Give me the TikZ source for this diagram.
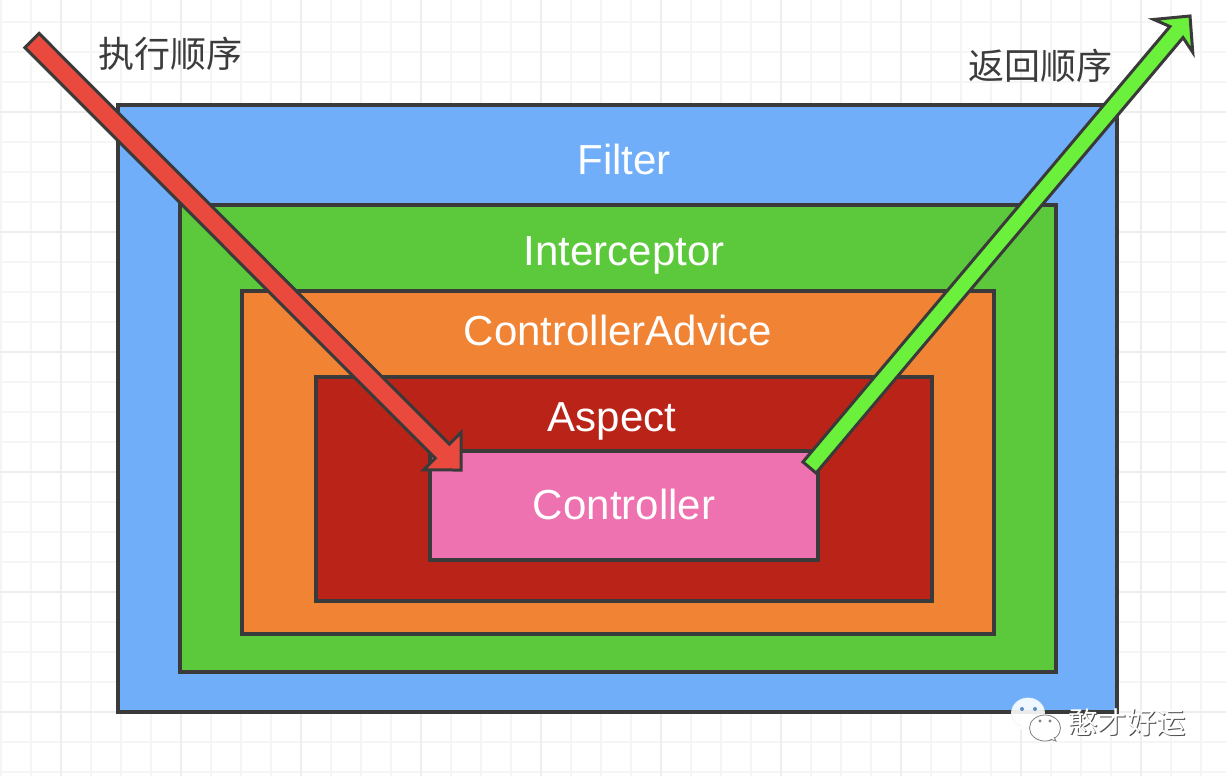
\documentclass[tikz,border=0pt]{standalone}
\usepackage{fontspec}
\usetikzlibrary{calc}
\setmainfont{Liberation Sans}
\newfontfamily\cjk{Noto Sans CJK SC}
\definecolor{stroke}{HTML}{3A3A3A}
\definecolor{cblue}{HTML}{70AEF9}
\definecolor{cgreen}{HTML}{5CC93C}
\definecolor{corange}{HTML}{F08434}
\definecolor{cdark}{HTML}{BA2418}
\definecolor{cpink}{HTML}{EE71B0}
\definecolor{cred}{HTML}{EA4A3E}
\definecolor{cgarrow}{HTML}{6BF03C}
\definecolor{gminor}{HTML}{F5F5F5}
\definecolor{gmajor}{HTML}{EEEEEE}
\definecolor{ctext}{HTML}{3C3C3C}
\tikzset{
  layer/.style={draw=stroke,line width=3.2pt,rectangle,inner sep=0pt,outer sep=0pt},
  boxlabel/.style={text=white,anchor=base,inner sep=0pt,font=\fontsize{42}{42}\selectfont},
  sidelabel/.style={text=ctext,anchor=base,inner sep=0pt,font=\cjk\fontsize{36}{36}\selectfont},
  blockline/.style={draw=stroke,line width=3pt,line join=miter},
  minorgrid/.style={draw=gminor,line width=2pt},
  majorgrid/.style={draw=gmajor,line width=2.4pt}
}
% tail, tip, fill, shaft half width, barb half width, head length, notch length
\newcommand{\blockarrow}[7]{%
  \coordinate (#1#2b) at ($(#2)!#6pt!(#1)$);
  \coordinate (#1#2n) at ($(#2)!#7pt!(#1)$);
  \draw[blockline,fill=#3]
    ($(#1)!#4pt!90:(#2)$) -- ($(#1#2n)!#4pt!-90:(#1)$) -- ($(#1#2b)!#5pt!-90:(#1)$) --
    (#2) -- ($(#1#2b)!#5pt!90:(#1)$) -- ($(#1#2n)!#4pt!90:(#1)$) -- ($(#1)!#4pt!-90:(#2)$) -- cycle;
}
\newcommand{\rectnode}[6]{%
  \node[layer,fill=#2,minimum width=#5pt-#3pt,minimum height=#6pt-#4pt] (#1) at ({(#3+#5)/2},{(#4+#6)/2}) {};
}
\begin{document}
\begin{tikzpicture}[x=1pt,y=-1pt]
\useasboundingbox (0,0) rectangle (1226,776);
\fill[white] (0,0) rectangle (1226,776);
\foreach \gx in {1,31,...,1221} \draw[minorgrid] (\gx,0) -- (\gx,776);
\foreach \gy in {22,52,...,772} \draw[minorgrid] (0,\gy) -- (1226,\gy);
\foreach \gx in {61,181,...,1221} \draw[majorgrid] (\gx,0) -- (\gx,776);
\foreach \gy in {112,232,...,772} \draw[majorgrid] (0,\gy) -- (1226,\gy);

\rectnode{filterbox}{cblue}{118}{105}{1117}{712}
\rectnode{interbox}{cgreen}{180}{205}{1056}{672}
\rectnode{advicebox}{corange}{242}{291}{994}{634}
\rectnode{aspectbox}{cdark}{316}{377}{932}{601}
\rectnode{ctrlbox}{cpink}{430}{451}{818}{560}

\node[boxlabel] (filtertext) at (624,174) {Filter};
\node[boxlabel] (intertext) at (624,265) {Interceptor};
\node[boxlabel] (advicetext) at (618,345) {ControllerAdvice};
\node[boxlabel] (aspecttext) at (612,431) {Aspect};
\node[boxlabel] (ctrltext) at (624,519) {Controller};

\coordinate (redtail) at (32,40.5);
\coordinate (redtip) at (461,470);
\blockarrow{redtail}{redtip}{cred}{10}{26.5}{26.5}{26.5}
\coordinate (greentail) at (809.5,467.5);
\coordinate (greentip) at (1190,16);
\blockarrow{greentail}{greentip}{cgarrow}{8.6}{25.5}{26}{21}

\node[sidelabel] (runtext) at (170.5,67) {执行顺序};
\node[sidelabel] (backtext) at (1040,80) {返回顺序};

% watermark
\fill[white,opacity=.9,draw=white!85!cblue,line width=.8pt] (1028,713) ellipse [x radius=16.5,y radius=15];
\fill[white,opacity=.9] (1019,726) -- (1016,732) -- (1026,727) -- cycle;
\fill[cblue!80!black] (1022,709) circle (2) (1035,709) circle (2);
\draw[draw=gray,fill=white,line width=.8pt] (1045,728) ellipse [x radius=15.5,y radius=13];
\draw[draw=gray,fill=white,line width=.8pt] (1050,739) -- (1056,741) -- (1054,737);
\fill[white] (1047,736) rectangle (1053,739);
\fill[gray] (1040,721) circle (1.6) (1050,721) circle (1.6);
\node[anchor=base,inner sep=0pt,text=black!70,font=\cjk\fontsize{29.5}{29.5}\selectfont] (wmshadow) at (1128,734) {憨才好运};
\node[anchor=base,inner sep=0pt,text=white,font=\cjk\fontsize{29.5}{29.5}\selectfont] (wmtext) at (1127,733) {憨才好运};
\end{tikzpicture}
\end{document}
